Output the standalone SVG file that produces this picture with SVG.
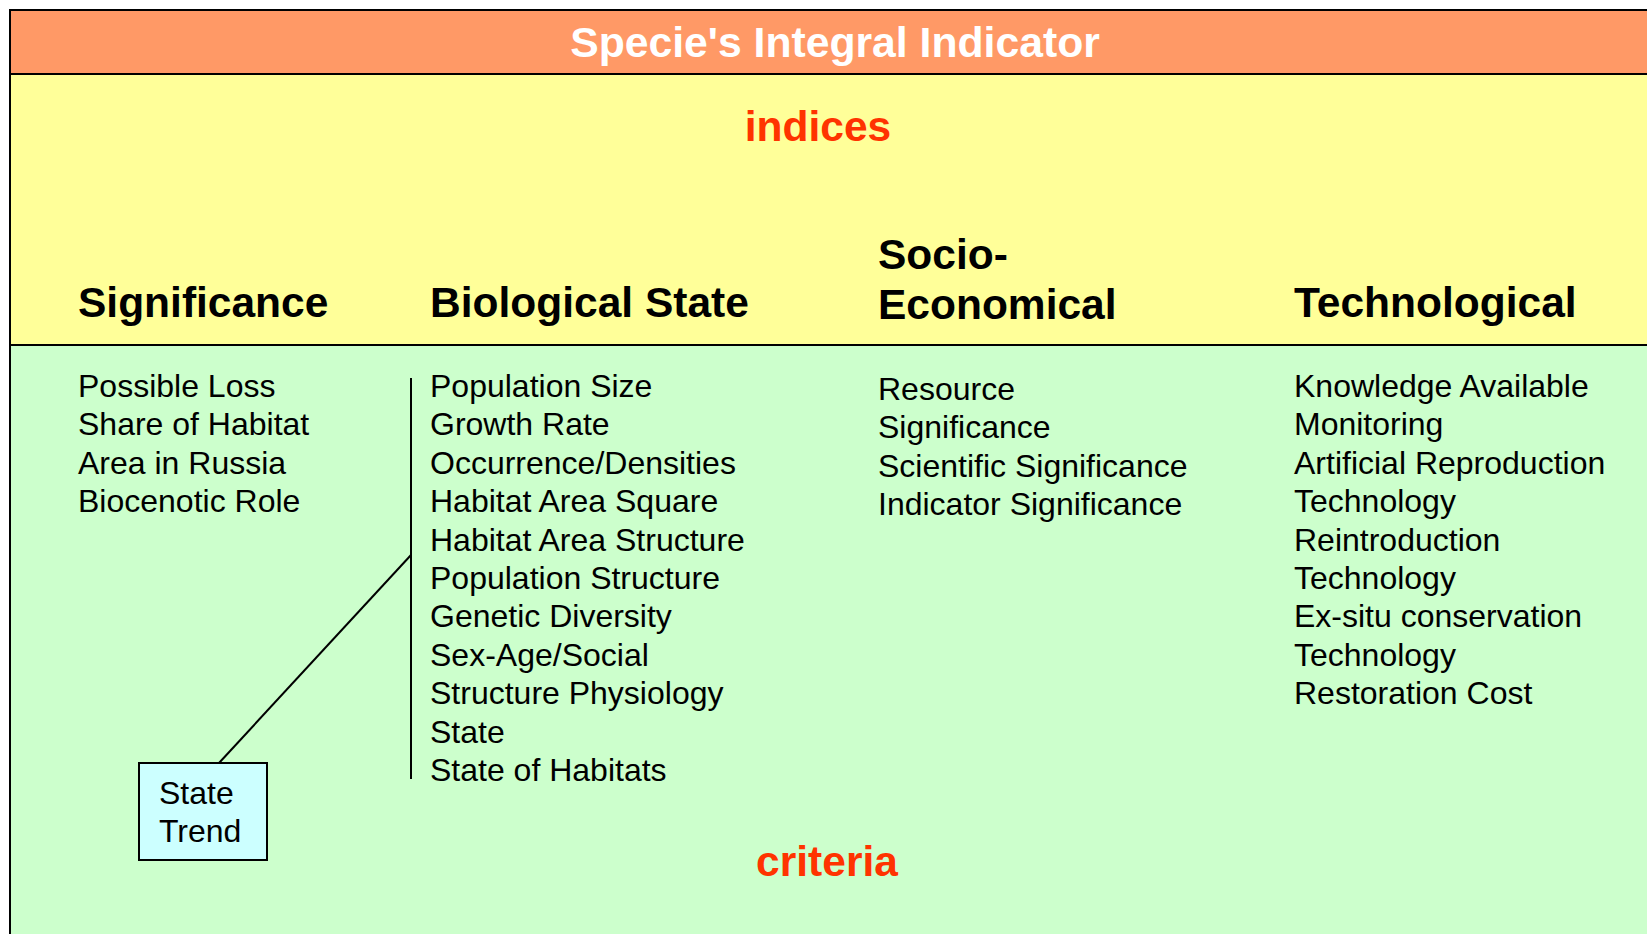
<svg xmlns="http://www.w3.org/2000/svg" width="1647" height="934" viewBox="0 0 1647 934">
  <style>
    .band { stroke: #000; stroke-width: 2; }
    .title { font-family: "Liberation Sans", Arial, sans-serif; font-weight: bold; font-size: 42.7px; fill: #fff; }
    .tag { font-family: "Liberation Sans", Arial, sans-serif; font-weight: bold; font-size: 42.5px; fill: #FF3300; }
    .head { font-family: "Liberation Sans", Arial, sans-serif; font-weight: bold; font-size: 42.5px; fill: #000; }
    .item { font-family: "Liberation Sans", Arial, sans-serif; font-size: 32px; fill: #000; }
    .conn { stroke: #000; stroke-width: 2; fill: none; }
  </style>

  <rect width="1647" height="934" fill="#fff"/>

  <!-- background bands -->
  <g id="bands">
    <rect class="band" x="10" y="10" width="1660" height="64" fill="#FF9966"/>
    <rect class="band" x="10" y="74" width="1660" height="271" fill="#FFFF99"/>
    <rect class="band" x="10" y="345" width="1660" height="620" fill="#CCFFCC"/>
  </g>

  <g id="title">
    <text class="title" x="835" y="57" text-anchor="middle">Specie's Integral Indicator</text>
  </g>

  <g id="indices">
    <text class="tag" x="818" y="141" text-anchor="middle">indices</text>
  </g>

  <g id="criteria">
    <text class="tag" x="827" y="876" text-anchor="middle">criteria</text>
  </g>

  <!-- connectors -->
  <g id="connectors">
    <line class="conn" x1="411" y1="378" x2="411" y2="779"/>
    <line class="conn" x1="411" y1="555" x2="219" y2="763"/>
  </g>

  <g id="significance">
    <text class="head" x="78" y="317">Significance</text>
    <text class="item" x="78" y="397">
      <tspan x="78" dy="0">Possible Loss</tspan>
      <tspan x="78" dy="38.4">Share of Habitat</tspan>
      <tspan x="78" dy="38.4">Area in Russia</tspan>
      <tspan x="78" dy="38.4">Biocenotic Role</tspan>
    </text>
  </g>

  <g id="biological-state">
    <text class="head" x="430" y="317">Biological State</text>
    <text class="item" x="430" y="397">
      <tspan x="430" dy="0">Population Size</tspan>
      <tspan x="430" dy="38.4">Growth Rate</tspan>
      <tspan x="430" dy="38.4">Occurrence/Densities</tspan>
      <tspan x="430" dy="38.4">Habitat Area Square</tspan>
      <tspan x="430" dy="38.4">Habitat Area Structure</tspan>
      <tspan x="430" dy="38.4">Population Structure</tspan>
      <tspan x="430" dy="38.4">Genetic Diversity</tspan>
      <tspan x="430" dy="38.4">Sex-Age/Social</tspan>
      <tspan x="430" dy="38.4">Structure Physiology</tspan>
      <tspan x="430" dy="38.4">State</tspan>
      <tspan x="430" dy="38.4">State of Habitats</tspan>
    </text>
  </g>

  <g id="socio-economical">
    <text class="head" x="878" y="269">
      <tspan x="878" dy="0">Socio-</tspan>
      <tspan x="878" dy="50">Economical</tspan>
    </text>
    <text class="item" x="878" y="400">
      <tspan x="878" dy="0">Resource</tspan>
      <tspan x="878" dy="38.4">Significance</tspan>
      <tspan x="878" dy="38.4">Scientific Significance</tspan>
      <tspan x="878" dy="38.4">Indicator Significance</tspan>
    </text>
  </g>

  <g id="technological">
    <text class="head" x="1294" y="317">Technological</text>
    <text class="item" x="1294" y="397">
      <tspan x="1294" dy="0">Knowledge Available</tspan>
      <tspan x="1294" dy="38.4">Monitoring</tspan>
      <tspan x="1294" dy="38.4">Artificial Reproduction</tspan>
      <tspan x="1294" dy="38.4">Technology</tspan>
      <tspan x="1294" dy="38.4">Reintroduction</tspan>
      <tspan x="1294" dy="38.4">Technology</tspan>
      <tspan x="1294" dy="38.4">Ex-situ conservation</tspan>
      <tspan x="1294" dy="38.4">Technology</tspan>
      <tspan x="1294" dy="38.4">Restoration Cost</tspan>
    </text>
  </g>

  <g id="state-trend">
    <rect x="139" y="763" width="128" height="97" fill="#CCFFFF" stroke="#000" stroke-width="2"/>
    <text class="item" x="159" y="804">
      <tspan x="159" dy="0">State</tspan>
      <tspan x="159" dy="38.4">Trend</tspan>
    </text>
  </g>
</svg>
